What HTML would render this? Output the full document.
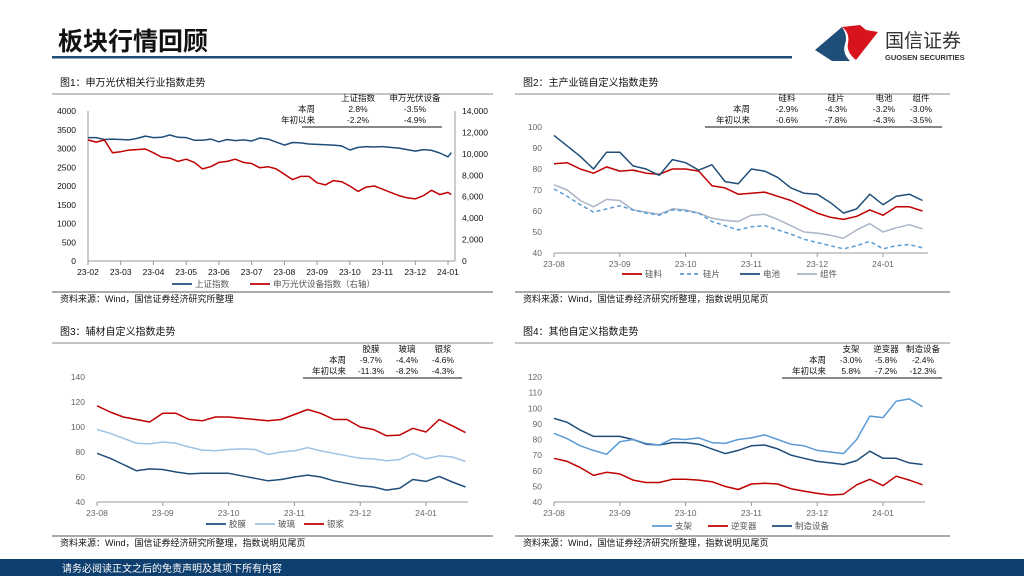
<!DOCTYPE html>
<html><head><meta charset="utf-8">
<style>
html,body{margin:0;padding:0;background:#fff;}
svg{display:block;font-family:"Liberation Sans","Noto Sans CJK SC",sans-serif;}
</style></head>
<body>
<svg id="s" width="1024" height="576" viewBox="0 0 1024 576" xmlns="http://www.w3.org/2000/svg">
<g>
<text x="58" y="50" font-size="25" font-weight="bold" fill="#111">板块行情回顾</text>
<rect x="52" y="56" width="740" height="2.5" fill="#1f4e79"/>
<g>
<path d="M815 50 L842 27 Q848 36 845 44 Q842 53 850 61 L832 61 Z" fill="#1f4e79"/>
<path d="M842 27 L860 25 L866 30 L878 32 L856 60 Q846 52 848 43 Q850 33 842 27 Z" fill="#d7141d"/>
<text x="885" y="47" font-size="19" fill="#333">国信证券</text>
<text x="885" y="60" font-size="7.5" font-weight="bold" fill="#333">GUOSEN SECURITIES</text>
</g>
</g>
<rect x="0" y="559" width="1024" height="17" fill="#0f3f6e"/>
<text x="62" y="572" font-size="10" fill="#fff">请务必阅读正文之后的免责声明及其项下所有内容</text>
<g id="charts"></g>
</svg>
<script>
// ---------- Chart 1 data ----------
const c1Dates = [0,0.25,0.5,0.75,1,1.25,1.5,1.75,2,2.25,2.5,2.75,3,3.25,3.5,3.75,4,4.25,4.5,4.75,5,5.25,5.5,5.75,6,6.25,6.5,6.75,7,7.25,7.5,7.75,8,8.25,8.5,8.75,9,9.25,9.5,9.75,10,10.25,10.5,10.75,11,11.1];
const c1Shanghai = [3290,3290,3240,3250,3240,3230,3270,3330,3290,3300,3360,3300,3290,3220,3220,3250,3180,3240,3210,3230,3200,3280,3250,3170,3090,3160,3150,3120,3110,3100,3090,3070,2960,3030,3050,3040,3050,3030,3010,2970,2930,2970,2950,2880,2780,2890];
const c1PV = [11300,11100,11300,10100,10200,10350,10400,10450,10100,9700,9600,9300,9500,9200,8600,8800,9200,9300,9500,9200,9100,8700,8800,8600,8100,7600,7900,7900,7300,7100,7500,7400,7000,6500,6900,7000,6700,6400,6100,5900,5800,6100,6600,6200,6400,6200];
const c1XLabels = ["23-02","23-03","23-04","23-05","23-06","23-07","23-08","23-09","23-10","23-11","23-12","24-01"];
const c1LeftTicks = [0,500,1000,1500,2000,2500,3000,3500,4000];
const c1RightTicks = [0,2000,4000,6000,8000,10000,12000,14000];
// ---------- Charts 2-4 shared dates ----------
const dDates = [0,0.2,0.4,0.6,0.8,1,1.2,1.4,1.6,1.8,2,2.2,2.4,2.6,2.8,3,3.2,3.4,3.6,3.8,4,4.2,4.4,4.6,4.8,5,5.2,5.4,5.6];
const dXLabels = ["23-08","23-09","23-10","23-11","23-12","24-01"];
// Chart 2
const c2Silicon = [82.5,83,80,78,81,79,79.5,78,77.5,80,80,79,72,71,68,68.5,69,67,65,62,59,57,56,57.5,60.5,58,62,62,60];
const c2Wafer = [70.5,67,63,59.5,61,62.5,60.5,59,58,60.5,60,59,55,53,51,52.5,53,51,49,46.5,45,43.5,42,43.5,45.5,42,43.5,44,42.5];
const c2Cell = [96,91,86,80,88,88,81.5,80,77,84.5,83,79.5,82,74,73,80,79,76,71,68.5,68,64,59,61,68,63,67,68,65];
const c2Module = [72.5,70,65,62,65.5,65,60.5,59.5,58.5,61,60.5,59,56.5,55.5,55,58,58.5,56,53,50,49.5,48.5,47,51,54,50,52,53.5,51.5];
const c2Ticks = [40,50,60,70,80,90,100];
// Chart 3
const c3Film = [79,75,70,65,66.5,66,64,62.5,63,63,63,61,59,57,58,60,61.5,60,57,55,53,52,49.5,51,58,56.5,60.5,56,52];
const c3Glass = [98,95,91,87,86.5,88,87,84,81.5,81,82,82.5,82,78,80,81,83.5,81,79,77,75,74.5,73,74,79,74.5,77,76,72.5];
const c3Paste = [117,112,108,106,104,111,111,106,105,108,108,107,106,105,106,110,114,111,106,106,100,98,93,93.5,99,96,106,101,95.5];
const c3Ticks = [40,60,80,100,120,140];
// Chart 4
const c4Bracket = [84,80.5,76,73,70.5,78.5,80,77.5,76.5,80.5,80,81,78,77.5,80,81,83,80,77,76,73,72,71,80,95,94,104.5,106,101];
const c4Inverter = [68,66,62,57,59,58,54,52.5,52.5,54.5,54.5,54,53,50,48,51.5,52,51.5,48.5,47,45.5,44.5,45,51,54.5,50.5,56.5,54,51];
const c4Equip = [93.5,91,86,82,82,82,80,77,76.5,78,78,77,74,71,73,76,76.5,74,70,68,66,65,64,66.5,72.5,68,68,65,64];
const c4Ticks = [40,50,60,70,80,90,100,110,120];

const NS = "http://www.w3.org/2000/svg";
const root = document.getElementById('charts');
function mk(tag, attrs, parent, txt){
  const e = document.createElementNS(NS, tag);
  for (const k in attrs) e.setAttribute(k, attrs[k]);
  if (txt !== undefined) e.textContent = txt;
  (parent || root).appendChild(e);
  return e;
}
function lineScale(d0,d1,r0,r1){return v => r0 + (v-d0)/(d1-d0)*(r1-r0);}
function pathFrom(xs, ys, xf, yf){
  return xs.map((x,i)=>(i?'L':'M')+xf(x).toFixed(1)+' '+yf(ys[i]).toFixed(1)).join(' ');
}
function frame(p){
  const g = mk('g',{});
  
  
  const t = mk('text',{x:p.x0+8,y:p.ty,'font-size':10,fill:'#111'},g,p.title);
  
  
  mk('line',{x1:p.x0,x2:p.x1,y1:p.ty+8,y2:p.ty+8,stroke:'#888','stroke-width':1},g);
  mk('line',{x1:p.x0,x2:p.x1,y1:p.sy-10,y2:p.sy-10,stroke:'#555','stroke-width':1},g);
  const s = mk('text',{x:p.x0+8,y:p.sy,'font-size':9,fill:'#111'},g,p.source);
  
  
  return g;
}
function table(g, cols, colX, rows, labelX, y0, lineX0, lineX1){
  const tg = mk('g',{},g);
  
  
  cols.forEach((c,i)=>mk('text',{x:colX[i],y:y0,'font-size':8.5,'text-anchor':'middle',fill:'#111'},tg,c));
  rows.forEach((r,ri)=>{
    mk('text',{x:labelX,y:y0+11*(ri+1),'font-size':8.5,'text-anchor':'end',fill:'#111'},tg,r[0]);
    r.slice(1).forEach((v,i)=>mk('text',{x:colX[i],y:y0+11*(ri+1),'font-size':8.5,'text-anchor':'middle',fill:'#111'},tg,v));
  });
  mk('line',{x1:lineX0,x2:lineX1,y1:y0+26,y2:y0+26,stroke:'#111','stroke-width':1},tg);
}
function xAxis(g, labels, xf, yBase, color){
  const ag = mk('g',{},g);
  
  
  labels.forEach((l,i)=>{
    mk('line',{x1:xf(i),x2:xf(i),y1:yBase,y2:yBase+4,stroke:'#999'},ag);
    mk('text',{x:xf(i),y:yBase+14,'font-size':8.5,'text-anchor':'middle',fill:color},ag,l);
  });
}
function yAxis(g, ticks, yf, x, anchor, color, fmt, name){
  const ag = mk('g',{},g);
  
  
  ticks.forEach(t=>mk('text',{x:x,y:yf(t)+3,'font-size':8.5,'text-anchor':anchor,fill:color},ag,fmt(t)));
}
function series(g, xs, ys, xf, yf, color, name, dash){
  const p = mk('path',{d:pathFrom(xs,ys,xf,yf),fill:'none',stroke:color,'stroke-width':1.5,'stroke-linejoin':'round'},g);
  if (dash) p.setAttribute('stroke-dasharray', dash);
  
  
}
function legend(g, items, y){
  const lg = mk('g',{},g);
  
  
  items.forEach(it=>{
    const l = mk('line',{x1:it.x,x2:it.x+20,y1:y,y2:y,stroke:it.c,'stroke-width':1.8},lg);
    if (it.dash) l.setAttribute('stroke-dasharray', it.dash);
    mk('text',{x:it.x+23,y:y+3,'font-size':8.5,fill:'#555'},lg,it.t);
  });
}
const NAVY='#1f4e79', RED='#c00000', LBLUE='#5b9bd5', PALE='#9dc3e6', GRAY='#aab4c8';

// ---------- Chart 1 ----------
(function(){
  const g = frame({name:'chart-1-pv-index',x0:52,x1:493,ty:86,sy:302,title:'图1：申万光伏相关行业指数走势',source:'资料来源：Wind，国信证券经济研究所整理'});
  const xf = lineScale(0,11,88,448);
  const yl = lineScale(0,4000,261,111);
  const yr = lineScale(0,14000,261,111);
  mk('line',{x1:88,x2:88,y1:111,y2:261,stroke:'#999'},g);
  mk('line',{x1:455,x2:455,y1:111,y2:261,stroke:'#999'},g);
  mk('line',{x1:88,x2:455,y1:261,y2:261,stroke:'#999'},g);
  yAxis(g,c1LeftTicks,yl,76,'end','#111',v=>String(v),'left-y-axis');
  yAxis(g,c1RightTicks,yr,462,'start','#111',v=>v.toLocaleString('en-US'),'right-y-axis');
  xAxis(g,c1XLabels,i=>xf(i),261,'#111');
  series(g,c1Dates,c1Shanghai,xf,yl,NAVY,'line-shanghai-index');
  series(g,c1Dates,c1PV,xf,yr,RED,'line-pv-equipment-index');
  table(g,['上证指数','申万光伏设备'],[358,415],[['本周','2.8%','-3.5%'],['年初以来','-2.2%','-4.9%']],315,101,302,442);
  legend(g,[{x:172,c:NAVY,t:'上证指数'},{x:250,c:RED,t:'申万光伏设备指数（右轴）'}],284);
})();

function stdChart(cfg){
  const g = frame(cfg);
  const xf = lineScale(0,5,cfg.px0,cfg.px5);
  const yf = lineScale(cfg.ticks[0],cfg.ticks[cfg.ticks.length-1],cfg.yb,cfg.yt);
  mk('line',{x1:cfg.px0,x2:cfg.pxEnd,y1:cfg.yb,y2:cfg.yb,stroke:'#999'},g);
  yAxis(g,cfg.ticks,yf,cfg.px0-12,'end','#666',v=>String(v),'y-axis');
  xAxis(g,dXLabels,i=>xf(i),cfg.yb,'#666');
  cfg.series.forEach(s=>series(g,dDates,s.v,xf,yf,s.c,s.n,s.dash));
  table(g,cfg.cols,cfg.colX,cfg.rows,cfg.labelX,cfg.tableY,cfg.tl0,cfg.tl1);
  legend(g,cfg.legend,cfg.ly);
}
// ---------- Chart 2 ----------
stdChart({name:'chart-2-supply-chain',x0:515,x1:950,ty:86,sy:302,title:'图2：主产业链自定义指数走势',source:'资料来源：Wind，国信证券经济研究所整理，指数说明见尾页',
  px0:554,px5:883,pxEnd:928,yb:253,yt:127,ticks:c2Ticks,
  series:[{v:c2Module,c:GRAY,n:'line-module'},{v:c2Wafer,c:LBLUE,n:'line-wafer',dash:'4,3'},{v:c2Silicon,c:RED,n:'line-polysilicon'},{v:c2Cell,c:NAVY,n:'line-cell'}],
  cols:['硅料','硅片','电池','组件'],colX:[787,836,884,921],rows:[['本周','-2.9%','-4.3%','-3.2%','-3.0%'],['年初以来','-0.6%','-7.8%','-4.3%','-3.5%']],labelX:750,tableY:101,tl0:705,tl1:942,
  ly:274,legend:[{x:622,c:RED,t:'硅料'},{x:680,c:LBLUE,t:'硅片',dash:'4,3'},{x:740,c:NAVY,t:'电池'},{x:797,c:GRAY,t:'组件'}]});
// ---------- Chart 3 ----------
stdChart({name:'chart-3-auxiliary-materials',x0:52,x1:493,ty:335,sy:546,title:'图3：辅材自定义指数走势',source:'资料来源：Wind，国信证券经济研究所整理，指数说明见尾页',
  px0:97,px5:426,pxEnd:468,yb:502,yt:377,ticks:c3Ticks,
  series:[{v:c3Film,c:NAVY,n:'line-film'},{v:c3Glass,c:PALE,n:'line-glass'},{v:c3Paste,c:RED,n:'line-silver-paste'}],
  cols:['胶膜','玻璃','银浆'],colX:[371,407,443],rows:[['本周','-9.7%','-4.4%','-4.6%'],['年初以来','-11.3%','-8.2%','-4.3%']],labelX:346,tableY:352,tl0:303,tl1:462,
  ly:524,legend:[{x:206,c:NAVY,t:'胶膜'},{x:255,c:PALE,t:'玻璃'},{x:304,c:RED,t:'银浆'}]});
// ---------- Chart 4 ----------
stdChart({name:'chart-4-other-indices',x0:515,x1:950,ty:335,sy:546,title:'图4：其他自定义指数走势',source:'资料来源：Wind，国信证券经济研究所整理，指数说明见尾页',
  px0:554,px5:883,pxEnd:925,yb:502,yt:377,ticks:c4Ticks,
  series:[{v:c4Equip,c:NAVY,n:'line-manufacturing-equipment'},{v:c4Inverter,c:RED,n:'line-inverter'},{v:c4Bracket,c:LBLUE,n:'line-bracket'}],
  cols:['支架','逆变器','制造设备'],colX:[851,886,923],rows:[['本周','-3.0%','-5.8%','-2.4%'],['年初以来','5.8%','-7.2%','-12.3%']],labelX:826,tableY:352,tl0:782,tl1:942,
  ly:526,legend:[{x:652,c:LBLUE,t:'支架'},{x:708,c:RED,t:'逆变器'},{x:772,c:NAVY,t:'制造设备'}]});
</script>
</body></html>
